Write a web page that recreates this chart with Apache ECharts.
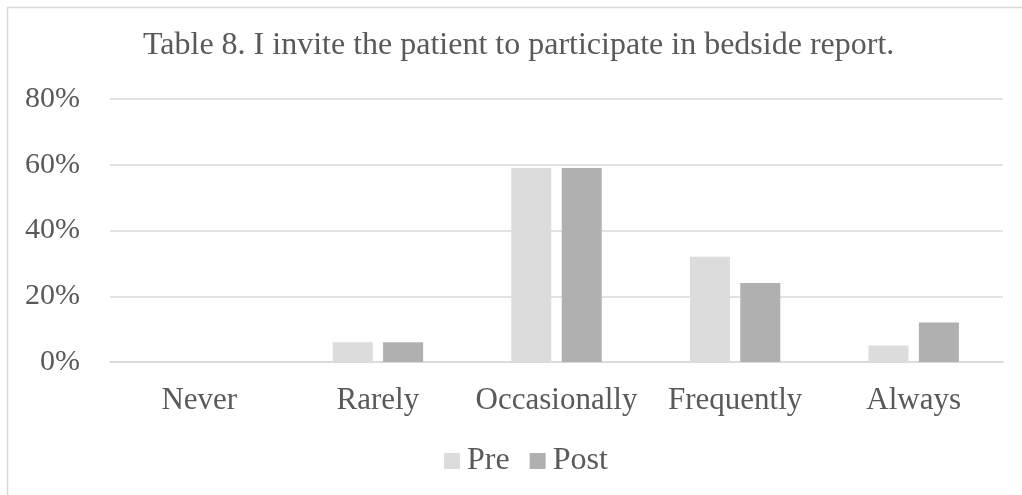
<!DOCTYPE html>
<html>
<head>
<meta charset="utf-8">
<script src="https://cdn.jsdelivr.net/npm/echarts@6/dist/echarts.min.js"></script>
<style>
  html, body { margin: 0; padding: 0; background: #fff; }
  #chart { width: 1022px; height: 495px; }
</style>
</head>
<body>
<div id="chart"></div>
<script>
// Survey responses, share of respondents per answer
const chartTitle = 'Table 8. I invite the patient to participate in bedside report.';
const categories = ['Never', 'Rarely', 'Occasionally', 'Frequently', 'Always'];
const preValues = [0, 6, 59, 32, 5];
const postValues = [0, 6, 59, 24, 12];
const seriesNames = ['Pre', 'Post'];

const FONT = '"Liberation Serif", "Times New Roman", serif';
const TEXT = '#595959';

const chart = echarts.init(document.getElementById('chart'), null, { renderer: 'canvas' });
chart.setOption({
  animation: false,
  backgroundColor: '#fff',
  title: {
    text: chartTitle,
    left: 138,
    top: 25,
    textStyle: { fontFamily: FONT, fontSize: 32, fontWeight: 'normal', color: TEXT }
  },
  graphic: [{
    type: 'rect',
    shape: { x: 7.5, y: 7.5, width: 1030, height: 500 },
    style: { fill: 'none', stroke: '#d9d9d9', lineWidth: 1.5 },
    silent: true
  }],
  legend: {
    data: seriesNames,
    bottom: 13,
    left: 439,
    itemWidth: 16,
    itemHeight: 16,
    itemGap: 20,
    icon: 'rect',
    textStyle: { fontFamily: FONT, fontSize: 32, color: TEXT, padding: [0, 0, 0, 2] }
  },
  grid: { left: 110, right: 19, top: 99, bottom: 133, containLabel: false },
  xAxis: {
    type: 'category',
    data: categories,
    axisLine: { lineStyle: { color: '#d9d9d9', width: 1.5 } },
    axisTick: { show: false },
    axisLabel: { interval: 0, fontFamily: FONT, fontSize: 31, color: TEXT, margin: 23 }
  },
  yAxis: {
    type: 'value',
    min: 0,
    max: 80,
    interval: 20,
    axisLine: { show: false },
    axisTick: { show: false },
    splitLine: { lineStyle: { color: '#d9d9d9', width: 1.5 } },
    axisLabel: { fontFamily: FONT, fontSize: 30, color: TEXT, margin: 30, formatter: '{value}%' }
  },
  series: [
    {
      name: seriesNames[0],
      type: 'bar',
      data: preValues,
      barWidth: 40,
      barGap: '26%',
      itemStyle: { color: '#dcdcdc' }
    },
    {
      name: seriesNames[1],
      type: 'bar',
      data: postValues,
      barWidth: 40,
      itemStyle: { color: '#b0b0b0' }
    }
  ]
});
</script>
</body>
</html>
